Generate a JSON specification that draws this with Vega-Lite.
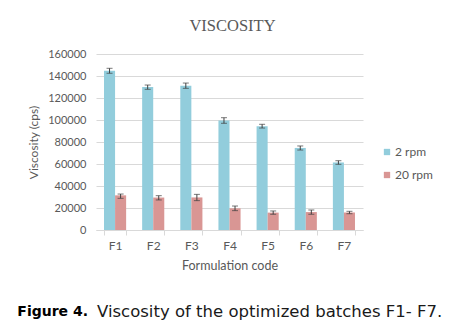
{
  "$schema": "https://vega.github.io/schema/vega-lite/v6.json",
  "background": "white",
  "padding": {"left": 17, "top": 17, "right": 5, "bottom": 5},
  "spacing": 30,
  "config": {
    "view": {"stroke": null},
    "font": "Lato",
    "axis": {"labelFont": "Lato", "titleFont": "Lato", "labelColor": "#595959", "titleColor": "#595959", "titleFontWeight": "normal"},
    "axisY": {
      "tickCount": 8,
      "format": "d",
      "labelOverlap": false,
      "domain": false,
      "ticks": false,
      "gridColor": "#D9D9D9",
      "labelFontSize": 11,
      "labelPadding": 10,
      "titleFontSize": 12,
      "titlePadding": 7
    }
  },
  "vconcat": [
    {
      "width": 267,
      "height": 176,
      "title": {"text": "VISCOSITY", "font": "Liberation Serif", "fontSize": 16.5, "fontWeight": "normal", "color": "#595959", "offset": 14, "dx": 3},
      "data": {
        "values": [
          {"code": "F1", "speed": "2 rpm", "viscosity": 144800, "lo": 142500, "hi": 147000},
          {"code": "F2", "speed": "2 rpm", "viscosity": 129900, "lo": 127900, "hi": 131800},
          {"code": "F3", "speed": "2 rpm", "viscosity": 131200, "lo": 128800, "hi": 133600},
          {"code": "F4", "speed": "2 rpm", "viscosity": 99600, "lo": 97000, "hi": 102100},
          {"code": "F5", "speed": "2 rpm", "viscosity": 94400, "lo": 92700, "hi": 96100},
          {"code": "F6", "speed": "2 rpm", "viscosity": 74600, "lo": 72700, "hi": 76400},
          {"code": "F7", "speed": "2 rpm", "viscosity": 61400, "lo": 59700, "hi": 63000},
          {"code": "F1", "speed": "20 rpm", "viscosity": 31500, "lo": 28800, "hi": 32700},
          {"code": "F2", "speed": "20 rpm", "viscosity": 29500, "lo": 27300, "hi": 31200},
          {"code": "F3", "speed": "20 rpm", "viscosity": 29600, "lo": 26700, "hi": 32400},
          {"code": "F4", "speed": "20 rpm", "viscosity": 19700, "lo": 17600, "hi": 21800},
          {"code": "F5", "speed": "20 rpm", "viscosity": 15800, "lo": 14300, "hi": 17300},
          {"code": "F6", "speed": "20 rpm", "viscosity": 16300, "lo": 14300, "hi": 18200},
          {"code": "F7", "speed": "20 rpm", "viscosity": 15900, "lo": 14800, "hi": 17000}
        ]
      },
      "encoding": {
        "x": {
          "field": "code",
          "type": "nominal",
          "scale": {"paddingInner": 0.42, "paddingOuter": 0.21},
          "axis": {
            "title": "Formulation code",
            "titleFontSize": 12.5,
            "titlePadding": 8,
            "labelAngle": 0,
            "labelFontSize": 12,
            "labelPadding": 5,
            "domainColor": "#D9D9D9",
            "tickColor": "#D9D9D9",
            "tickBand": "extent",
            "tickSize": 5,
            "grid": false
          }
        },
        "xOffset": {"field": "speed", "type": "nominal", "sort": ["2 rpm", "20 rpm"]}
      },
      "layer": [
        {
          "mark": {"type": "bar"},
          "encoding": {
            "y": {
              "field": "viscosity",
              "type": "quantitative",
              "title": "Viscosity (cps)",
              "scale": {"domain": [0, 160000]}
            },
            "color": {
              "field": "speed",
              "type": "nominal",
              "sort": ["2 rpm", "20 rpm"],
              "scale": {"domain": ["2 rpm", "20 rpm"], "range": ["#92CDDC", "#D99694"]},
              "legend": {
                "title": null,
                "orient": "none",
                "legendX": 285,
                "legendY": 92,
                "symbolType": "square",
                "symbolSize": 40,
                "symbolStrokeWidth": 0,
                "labelOffset": 2,
                "labelFont": "Lato",
                "labelFontSize": 12,
                "labelColor": "#595959",
                "rowPadding": 11
              }
            }
          }
        },
        {
          "mark": {"type": "rule", "color": "#404040", "strokeWidth": 1},
          "encoding": {
            "y": {"field": "lo", "type": "quantitative", "title": "Viscosity (cps)"},
            "y2": {"field": "hi"}
          }
        },
        {
          "mark": {"type": "tick", "color": "#404040", "size": 6, "thickness": 1},
          "encoding": {"y": {"field": "lo", "type": "quantitative", "title": "Viscosity (cps)"}}
        },
        {
          "mark": {"type": "tick", "color": "#404040", "size": 6, "thickness": 1},
          "encoding": {"y": {"field": "hi", "type": "quantitative", "title": "Viscosity (cps)"}}
        }
      ]
    },
    {
      "width": 267,
      "height": 20,
      "data": {"values": [{"label": "Figure 4.", "text": "Viscosity of the optimized batches F1- F7."}]},
      "layer": [
        {
          "mark": {"type": "text", "align": "right", "baseline": "middle", "dx": -141.5, "font": "DejaVu Sans", "fontSize": 14, "fontWeight": "bold", "color": "#000000"},
          "encoding": {"text": {"field": "label", "type": "nominal"}}
        },
        {
          "mark": {"type": "text", "align": "left", "baseline": "middle", "dx": -132.5, "font": "DejaVu Sans", "fontSize": 16.5, "color": "#1a1a1a"},
          "encoding": {"text": {"field": "text", "type": "nominal"}}
        }
      ]
    }
  ]
}
